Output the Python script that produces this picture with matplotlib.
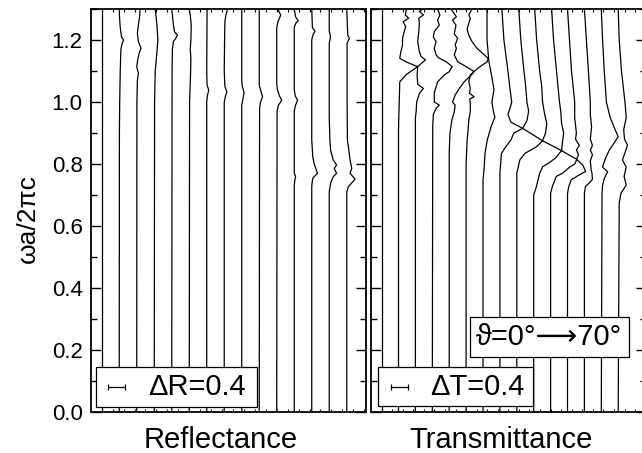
import matplotlib
matplotlib.use("Agg")
import numpy as np
import matplotlib.pyplot as plt
from matplotlib.patches import Rectangle
from matplotlib.ticker import MultipleLocator, FormatStrFormatter
from matplotlib.transforms import blended_transform_factory

plt.rcParams['font.family'] = ['Liberation Sans', 'DejaVu Sans']

# incidence angles (deg); each spectrum is shifted by one scale-bar step
angles = [0, 5, 10, 15, 20, 25, 30, 35, 40, 45, 50, 55, 60, 65, 70]
step = 0.4
delta_R = 0.4
delta_T = 0.4

# reflectance spectra: (reduced frequency, reflectance change)
refl_00 = [(0.0, 0.0), (1.30, 0.0)]
refl_05 = [(0.0, 0.0), (0.9, 0.004), (1.0, 0.011), (1.1, 0.023), (1.17, 0.038), (1.19, 0.069),
           (1.2, 0.099), (1.21, 0.053), (1.24, 0.023), (1.27, 0.008), (1.30, 0.0)]
refl_10 = [(0.0, 0.0), (1.0, 0.004), (1.07, 0.015), (1.092, 0.038), (1.114, 0.0), (1.136, 0.023),
           (1.16, 0.061), (1.173, 0.099), (1.195, 0.038), (1.222, 0.015), (1.248, 0.038),
           (1.28, 0.069), (1.30, 0.076)]
refl_15 = [(0.0, 0.0), (1.0, 0.008), (1.1, 0.023), (1.16, 0.061), (1.2, 0.084), (1.25, 0.061),
           (1.30, 0.023)]
refl_20 = [(0.0, 0.0), (1.1, 0.008), (1.17, 0.015), (1.195, 0.038), (1.205, 0.091), (1.216, 0.13),
           (1.227, 0.061), (1.25, 0.038), (1.27, 0.023), (1.30, 0.0)]
refl_25 = [(0.0, 0.0), (1.0, 0.008), (1.09, 0.03), (1.14, 0.038), (1.17, 0.023), (1.2, 0.038),
           (1.25, 0.046), (1.28, 0.023), (1.30, 0.0)]
refl_30 = [(0.0, 0.0), (1.0, 0.0), (1.02, 0.015), (1.038, 0.046), (1.055, 0.008), (1.1, 0.0),
           (1.30, 0.008)]
refl_35 = [(0.0, 0.0), (1.0, 0.0), (1.02, 0.03), (1.033, 0.061), (1.05, 0.015), (1.1, 0.0),
           (1.2, 0.008), (1.26, 0.015), (1.28, 0.038), (1.30, 0.076)]
refl_40 = [(0.0, 0.0), (0.99, 0.0), (1.012, 0.03), (1.03, 0.053), (1.05, 0.015), (1.07, 0.0),
           (1.30, 0.0)]
refl_45 = [(0.0, 0.0), (0.98, 0.008), (1.0, 0.03), (1.017, 0.076), (1.035, 0.038), (1.055, 0.0),
           (1.30, 0.0)]
refl_50 = [(0.0, 0.0), (0.97, 0.008), (0.99, 0.038), (1.005, 0.114), (1.02, 0.061), (1.04, 0.015),
           (1.06, 0.0), (1.24, 0.0), (1.26, 0.03), (1.28, 0.091), (1.30, 0.023)]
refl_55 = [(0.0, 0.0), (0.73, 0.0), (0.75, 0.015), (0.76, 0.03), (0.77, 0.0), (0.97, 0.0),
           (0.99, 0.03), (1.005, 0.076), (1.02, 0.023), (1.04, 0.0), (1.24, 0.0), (1.255, 0.038),
           (1.262, 0.091), (1.275, 0.03), (1.30, 0.0)]
refl_60 = [(0.0, 0.0), (0.73, 0.0), (0.754, 0.023), (0.77, 0.13), (0.78, 0.107), (0.802, 0.053),
           (0.824, 0.023), (0.845, 0.015), (0.877, 0.0), (1.2, 0.0), (1.218, 0.03), (1.228, 0.076),
           (1.24, 0.015), (1.30, 0.0)]
refl_65 = [(0.0, 0.0), (0.71, 0.0), (0.738, 0.03), (0.759, 0.091), (0.77, 0.168), (0.786, 0.114),
           (0.797, 0.168), (0.813, 0.091), (0.845, 0.03), (0.877, 0.015), (0.95, 0.0), (1.19, 0.0),
           (1.21, 0.03), (1.23, 0.0), (1.30, 0.0)]
refl_70 = [(0.0, 0.0), (0.71, 0.0), (0.727, 0.038), (0.751, 0.19), (0.77, 0.076), (0.786, 0.114),
           (0.813, 0.076), (0.855, 0.038), (0.877, 0.015), (1.0, 0.008), (1.19, 0.008),
           (1.205, 0.061), (1.215, 0.023), (1.30, 0.0)]

# transmittance spectra: (reduced frequency, transmittance change)
trans_00 = [(0.0, 0.0), (1.30, 0.0)]
trans_05 = [(0.0, 0.0), (0.91, 0.0), (1.0, 0.017), (1.065, 0.03), (1.087, 0.17), (1.114, 0.45),
            (1.13, 0.17), (1.141, 0.03), (1.162, 0.055), (1.184, 0.095), (1.205, 0.095),
            (1.227, 0.135), (1.243, 0.17), (1.259, 0.11), (1.27, 0.24), (1.281, 0.16), (1.30, 0.19)]
trans_10 = [(0.0, 0.0), (0.95, 0.0), (0.968, 0.017), (1.0, 0.03), (1.028, 0.095), (1.044, 0.19),
            (1.057, 0.055), (1.087, 0.04), (1.114, 0.055), (1.136, 0.24), (1.146, 0.135),
            (1.162, 0.095), (1.195, 0.055), (1.227, 0.08), (1.254, 0.095), (1.27, 0.08),
            (1.281, 0.19), (1.292, 0.095), (1.30, 0.17)]
trans_15 = [(0.0, 0.0), (0.92, 0.01), (0.96, 0.024), (0.98, 0.095), (0.99, 0.165), (1.0, 0.047),
            (1.03, 0.047), (1.065, 0.125), (1.087, 0.28), (1.098, 0.40), (1.114, 0.47), (1.13, 0.33),
            (1.141, 0.165), (1.152, 0.088), (1.173, 0.047), (1.195, 0.088), (1.21, 0.024),
            (1.227, 0.047), (1.248, 0.165), (1.264, 0.125), (1.281, 0.18), (1.30, 0.125)]
trans_20 = [(0.0, 0.0), (0.834, 0.0), (0.899, 0.017), (0.942, 0.064), (0.968, 0.12), (0.99, 0.14),
            (1.0, 0.078), (1.022, 0.14), (1.044, 0.24), (1.065, 0.355), (1.087, 0.52), (1.098, 0.59),
            (1.114, 0.40), (1.13, 0.20), (1.152, 0.12), (1.173, 0.17), (1.184, 0.14), (1.205, 0.20),
            (1.22, 0.12), (1.248, 0.16), (1.264, 0.078), (1.275, 0.17), (1.30, 0.04)]
trans_25 = [(0.0, 0.0), (0.8, 0.0), (0.877, 0.024), (0.899, 0.04), (0.942, 0.064), (0.97, 0.10),
            (0.99, 0.10), (1.01, 0.088), (1.017, 0.19), (1.028, 0.078), (1.044, 0.10), (1.065, 0.064),
            (1.087, 0.10), (1.098, 0.18), (1.114, 0.33), (1.13, 0.50), (1.141, 0.52), (1.152, 0.43),
            (1.173, 0.26), (1.195, 0.14), (1.215, 0.064), (1.235, 0.024), (1.254, 0.064),
            (1.27, 0.10), (1.281, 0.064), (1.30, 0.14)]
trans_30 = [(0.0, 0.0), (0.75, 0.0), (0.78, 0.024), (0.834, 0.047), (0.877, 0.10), (0.92, 0.19),
            (0.95, 0.28), (0.975, 0.24), (1.0, 0.21), (1.04, 0.26), (1.08, 0.21), (1.13, 0.14),
            (1.2, 0.095), (1.30, 0.095)]
trans_35 = [(0.0, 0.0), (0.77, 0.0), (0.834, 0.036), (0.856, 0.14), (0.877, 0.26), (0.9, 0.33),
            (0.915, 0.54), (0.935, 0.26), (0.96, 0.19), (0.98, 0.24), (1.0, 0.28), (1.04, 0.24),
            (1.1, 0.19), (1.2, 0.095), (1.30, 0.047)]
trans_40 = [(0.0, 0.0), (0.77, 0.0), (0.813, 0.071), (0.834, 0.19), (0.845, 0.33), (0.856, 0.47),
            (0.875, 0.61), (0.915, 0.14), (0.94, 0.24), (0.97, 0.28), (1.0, 0.24), (1.05, 0.21),
            (1.1, 0.17), (1.2, 0.095), (1.30, 0.047)]
trans_45 = [(0.0, 0.0), (0.70, 0.0), (0.727, 0.064), (0.77, 0.14), (0.791, 0.21), (0.805, 0.38),
            (0.82, 0.52), (0.843, 0.66), (0.875, 0.21), (0.9, 0.28), (0.93, 0.31), (0.96, 0.26),
            (1.0, 0.21), (1.05, 0.19), (1.1, 0.14), (1.2, 0.07), (1.30, 0.024)]
trans_50 = [(0.0, 0.0), (0.705, 0.0), (0.727, 0.04), (0.76, 0.135), (0.77, 0.28), (0.79, 0.45),
            (0.80, 0.57), (0.815, 0.62), (0.843, 0.26), (0.87, 0.28), (0.9, 0.31), (0.93, 0.26),
            (0.97, 0.24), (1.0, 0.21), (1.1, 0.14), (1.2, 0.07), (1.30, 0.024)]
trans_55 = [(0.0, 0.0), (0.705, 0.0), (0.727, 0.03), (0.749, 0.088), (0.765, 0.28), (0.776, 0.43),
            (0.797, 0.36), (0.815, 0.215), (0.83, 0.26), (0.845, 0.21), (0.86, 0.28), (0.88, 0.19),
            (0.9, 0.21), (0.95, 0.17), (1.0, 0.17), (1.1, 0.095), (1.2, 0.047), (1.30, 0.0)]
trans_60 = [(0.0, 0.0), (0.705, 0.0), (0.727, 0.024), (0.74, 0.12), (0.75, 0.19), (0.77, 0.18),
            (0.78, 0.16), (0.81, 0.14), (0.83, 0.19), (0.845, 0.14), (0.86, 0.19), (0.88, 0.14),
            (0.92, 0.17), (0.96, 0.14), (1.0, 0.14), (1.1, 0.095), (1.2, 0.047), (1.30, 0.0)]
trans_65 = [(0.0, 0.0), (0.705, 0.017), (0.731, 0.03), (0.753, 0.07), (0.775, 0.15), (0.79, 0.03),
            (0.807, 0.07), (0.825, 0.12), (0.845, 0.19), (0.867, 0.30), (0.888, 0.40),
            (0.91, 0.33), (0.95, 0.21), (1.0, 0.12), (1.1, 0.07), (1.2, 0.03), (1.30, 0.0)]
trans_70 = [(0.0, 0.0), (0.674, 0.024), (0.706, 0.066), (0.732, 0.19), (0.76, 0.14), (0.79, 0.19),
            (0.813, 0.10), (0.84, 0.17), (0.861, 0.22), (0.88, 0.15), (0.91, 0.13), (0.95, 0.19),
            (1.0, 0.16), (1.1, 0.078), (1.2, 0.024), (1.30, 0.0)]

reflectance = [refl_00, refl_05, refl_10, refl_15, refl_20, refl_25, refl_30, refl_35,
               refl_40, refl_45, refl_50, refl_55, refl_60, refl_65, refl_70]
transmittance = [trans_00, trans_05, trans_10, trans_15, trans_20, trans_25, trans_30, trans_35,
                 trans_40, trans_45, trans_50, trans_55, trans_60, trans_65, trans_70]

W, H = 642, 453
fig = plt.figure(figsize=(W / 100, H / 100), dpi=100)

ax_r = fig.add_axes([91 / W, 41 / H, 275 / W, 403 / H])
ax_t = fig.add_axes([371 / W, 41 / H, 275 / W, 403 / H])

tick_fs = 16
for ax, spectra in ((ax_r, reflectance), (ax_t, transmittance)):
    for i, pts in enumerate(spectra):
        f = [p[0] for p in pts]
        v = [p[1] for p in pts]
        ax.plot(np.array(v) + i * step, f, color='black', lw=0.9, solid_joinstyle='round')
    ax.set_ylim(0, 1.30)
    ax.yaxis.set_major_locator(MultipleLocator(0.2))
    ax.yaxis.set_minor_locator(MultipleLocator(0.1))
    ax.xaxis.set_major_locator(MultipleLocator(0.25))
    ax.tick_params(axis='y', which='both', direction='in', left=True, right=True,
                   labelsize=tick_fs, pad=6)
    ax.tick_params(axis='y', which='major', length=7, width=1.0)
    ax.tick_params(axis='y', which='minor', length=4, width=1.0)
    ax.tick_params(axis='x', which='major', direction='in', top=True, bottom=True,
                   length=2.5, width=0.8, labelbottom=False)
    for s in ax.spines.values():
        s.set_linewidth(1.3)

ax_r.set_xlim(-0.245, 6.04)
ax_t.set_xlim(-0.251, 6.258)
ax_r.yaxis.set_major_formatter(FormatStrFormatter('%.1f'))
ax_t.tick_params(axis='y', labelleft=False)

ax_r.set_ylabel('ωa/2πc', fontsize=19)
ax_r.yaxis.set_label_coords(-0.185, 0.481)

fig.text(221 / W, 1 - 448 / H, 'Reflectance', fontsize=21, ha='center', va='baseline')
fig.text(501 / W, 1 - 448 / H, 'Transmittance', fontsize=21, ha='center', va='baseline')


def scale_box(ax, x0, x1, y0, y1, xc_data, yc_data, half, text, tx):
    ax.add_patch(Rectangle((x0, y0), x1 - x0, y1 - y0, transform=ax.transAxes,
                           facecolor='white', edgecolor='black', lw=0.9, zorder=5))
    ax.errorbar([xc_data], [yc_data], xerr=[half], fmt='none', ecolor='black',
                elinewidth=0.9, capsize=2.5, capthick=0.9, zorder=6)
    ax.text(tx, yc_data, text, fontsize=21, ha='left', va='center', zorder=7,
            transform=blended_transform_factory(ax.transAxes, ax.transData))


yc = (412 - 387) / 309.4
scale_box(ax_r, 5 / 275, 166 / 275, 5 / 403, 45 / 403, 0.338, yc, delta_R / 2,
          'ΔR=0.4', (148 - 91) / 275)
scale_box(ax_t, 7 / 275, 162 / 275, 6 / 403, 45 / 403, 0.424, yc, delta_T / 2,
          'ΔT=0.4', (430 - 371) / 275)

ax_t.add_patch(Rectangle((99 / 275, 55 / 403), 159 / 275, 40 / 403, transform=ax_t.transAxes,
                         facecolor='white', edgecolor='black', lw=0.9, zorder=5))
ax_t.text(178.5 / 275, 75 / 403, f'ϑ={angles[0]}°⟶{angles[-1]}°', fontsize=21,
          ha='center', va='center', transform=ax_t.transAxes, zorder=7)

fig.savefig('out.png', dpi=100)
